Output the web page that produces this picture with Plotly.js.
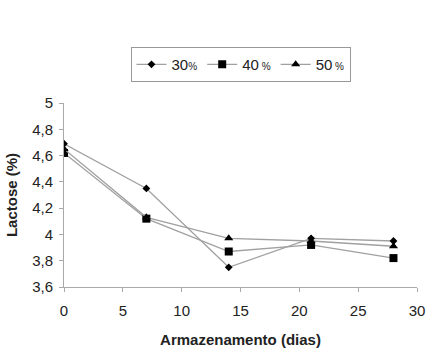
<!DOCTYPE html>
<html>
<head>
<meta charset="utf-8">
<script src="https://cdn.plot.ly/plotly-3.0.1.min.js"></script>
<style>html,body{margin:0;padding:0;background:#fff;}#chart{width:436px;height:364px;}</style>
</head>
<body>
<div id="chart"></div>
<script>
var dias = [0, 7, 14, 21, 28];
var s30 = [4.69, 4.35, 3.75, 3.97, 3.95];
var s40 = [4.62, 4.12, 3.87, 3.92, 3.82];
var s50 = [4.65, 4.13, 3.97, 3.95, 3.91];
var names = ['30<span style="font-size:10px">%</span>', '40<span style="font-size:10px"> %</span>', '50<span style="font-size:10px"> %</span>'];

var lineStyle = {color: '#a0a0a0', width: 1.3};
var traces = [
  {x: dias, y: s30, name: names[0], mode: 'lines+markers', line: lineStyle,
   marker: {symbol: 'diamond', size: 6, color: '#000'}},
  {x: dias, y: s40, name: names[1], mode: 'lines+markers', line: lineStyle,
   marker: {symbol: 'square', size: 8, color: '#000'}},
  {x: dias, y: s50, name: names[2], mode: 'lines+markers', line: lineStyle,
   marker: {symbol: 'triangle-up', size: 8, color: '#000'}}
];

var layout = {
  width: 436, height: 364,
  margin: {l: 64, r: 19, t: 103, b: 77},
  paper_bgcolor: '#fff', plot_bgcolor: '#fff',
  separators: ', ',
  font: {family: 'Liberation Sans, Arial, sans-serif', size: 15, color: '#222'},
  showlegend: true,
  legend: {orientation: 'h', x: 0.5, xanchor: 'center', y: 1.304, yanchor: 'top',
           bordercolor: '#999', borderwidth: 1, font: {size: 15, color: '#222'},
           itemwidth: 30, tracegroupgap: 0},
  xaxis: {range: [0, 30], dtick: 5, tick0: 0, showgrid: false, zeroline: false,
          showline: true, linecolor: '#aaa', linewidth: 1,
          ticks: 'outside', ticklen: 4, tickcolor: '#aaa', ticklabelstandoff: 6,
          tickfont: {size: 15, color: '#222'},
          title: {text: '<b>Armazenamento (dias)</b>', font: {size: 15, color: '#222'}, standoff: 16}},
  yaxis: {range: [3.6, 5], dtick: 0.2, tick0: 3.6, showgrid: false, zeroline: false,
          showline: true, linecolor: '#aaa', linewidth: 1,
          ticks: 'outside', ticklen: 4, tickcolor: '#aaa', ticklabelstandoff: 3,
          tickfont: {size: 15, color: '#222'},
          title: {text: '<b>Lactose (%)</b>', font: {size: 15, color: '#222'}, standoff: 10}}
};

Plotly.newPlot('chart', traces, layout, {displayModeBar: false, staticPlot: true});
</script>
</body>
</html>
